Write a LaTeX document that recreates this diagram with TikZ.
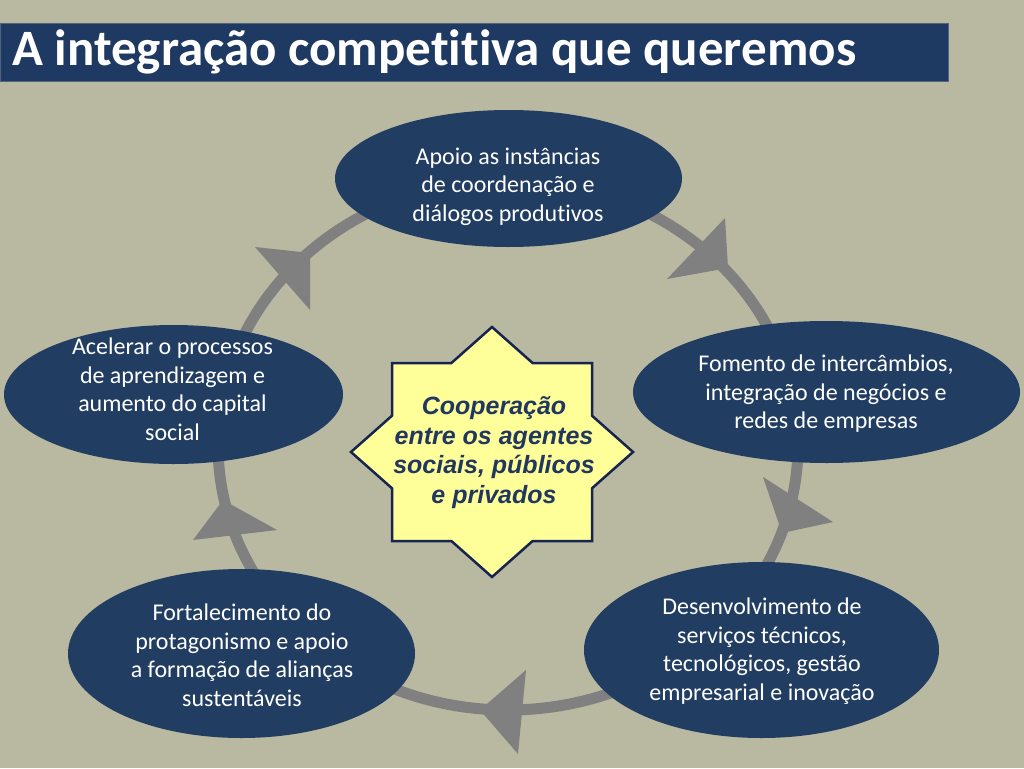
\documentclass[tikz,border=0pt]{standalone}
\usepackage{fontspec}
\setmainfont{Carlito}[Ligatures=CommonOff,RawFeature=-liga]
\newfontfamily\arialfont{Liberation Sans}
\usetikzlibrary{shapes.geometric}
\definecolor{bgcol}{RGB}{185,184,160}
\definecolor{navy}{RGB}{33,61,98}
\definecolor{titlecol}{RGB}{30,57,98}
\definecolor{titleedge}{RGB}{80,100,130}
\definecolor{ringgray}{RGB}{128,128,128}
\definecolor{staryellow}{RGB}{255,255,153}
\definecolor{starline}{RGB}{22,36,80}
\definecolor{startext}{RGB}{33,55,95}
\begin{document}
\begin{tikzpicture}[x=1pt,y=-1pt,
  bubble/.style={ellipse, fill=navy, draw=none, inner sep=0pt},
  bubbletext/.style={text=white, align=center, font=\fontsize{24}{28.5}\selectfont, inner sep=0pt},
  arrowtip/.style={fill=ringgray, draw=none},
  startxt/.style={text=startext, align=center, font=\arialfont\bfseries\itshape\fontsize{25}{29.5}\selectfont, inner sep=0pt},
]
\useasboundingbox (0,0) rectangle (1024,768);
\fill[bgcol] (0,0) rectangle (1024,768);

% ring
\node[draw=ringgray, line width=11pt, ellipse, minimum width=580pt, minimum height=530pt, inner sep=0pt] (ring) at (508,445) {};

% arrowheads on the ring
\fill[arrowtip] (310,253) -- (255,247) -- (310,310) -- cycle;
\fill[arrowtip] (728,268) -- (725,218) -- (667,279) -- cycle;
\fill[arrowtip] (782,533) -- (763,477) -- (833,522) -- cycle;
\fill[arrowtip] (480,710) -- (526,670) -- (518,754) -- cycle;
\fill[arrowtip] (223,500) -- (193,540) -- (277,530) -- cycle;

% ellipses
\node[bubble, minimum width=347pt, minimum height=137pt] (etop) at (508.5,178.5) {};
\node[bubble, minimum width=339pt, minimum height=139pt] (eleft) at (173.5,394.5) {};
\node[bubble, minimum width=387pt, minimum height=142pt] (eright) at (826.5,392) {};
\node[bubble, minimum width=355pt, minimum height=176pt] (ebr) at (761.5,650) {};
\node[bubble, minimum width=347pt, minimum height=169pt] (ebl) at (241.5,653.5) {};

\node[bubbletext] (ttop) at (508,186.5) {Apoio as instâncias\\de coordenação e\\diálogos produtivos};
\node[bubbletext] (tleft) at (172.5,389.5) {Acelerar o processos\\de aprendizagem e\\aumento do capital\\social};
\node[bubbletext] (tright) at (826,394) {Fomento de intercâmbios,\\integração de negócios e\\redes de empresas};
\node[bubbletext] (tbr) at (762,651) {Desenvolvimento de\\serviços técnicos,\\tecnológicos, gestão\\empresarial e inovação};
\node[bubbletext] (tbl) at (242,655) {Fortalecimento do\\protagonismo e apoio\\a formação de alianças\\sustentáveis};

% star
\draw[fill=staryellow, draw=starline, line width=2.5pt, line join=miter]
  (492,327) -- (532.6,363) -- (592,363) -- (592,415.7) -- (633,452) -- (592,488.3) --
  (592,541) -- (532.6,541) -- (492,577) -- (451.4,541) -- (392,541) -- (392,488.3) --
  (351,452) -- (392,415.7) -- (392,363) -- (451.4,363) -- cycle;
\node[startxt] (star) at (494,452.5) {Cooperação\\entre os agentes\\sociais, públicos\\e privados};

% title
\node[fill=titlecol, draw=titleedge, line width=1pt, minimum width=948pt, minimum height=58pt, anchor=north west, inner sep=0pt] (bar) at (0,23) {};
\node[anchor=base west, text=white, font=\bfseries\fontsize{51}{51}\selectfont, inner sep=0pt] (title) at (12,66) {A integração competitiva que queremos};
\end{tikzpicture}
\end{document}
